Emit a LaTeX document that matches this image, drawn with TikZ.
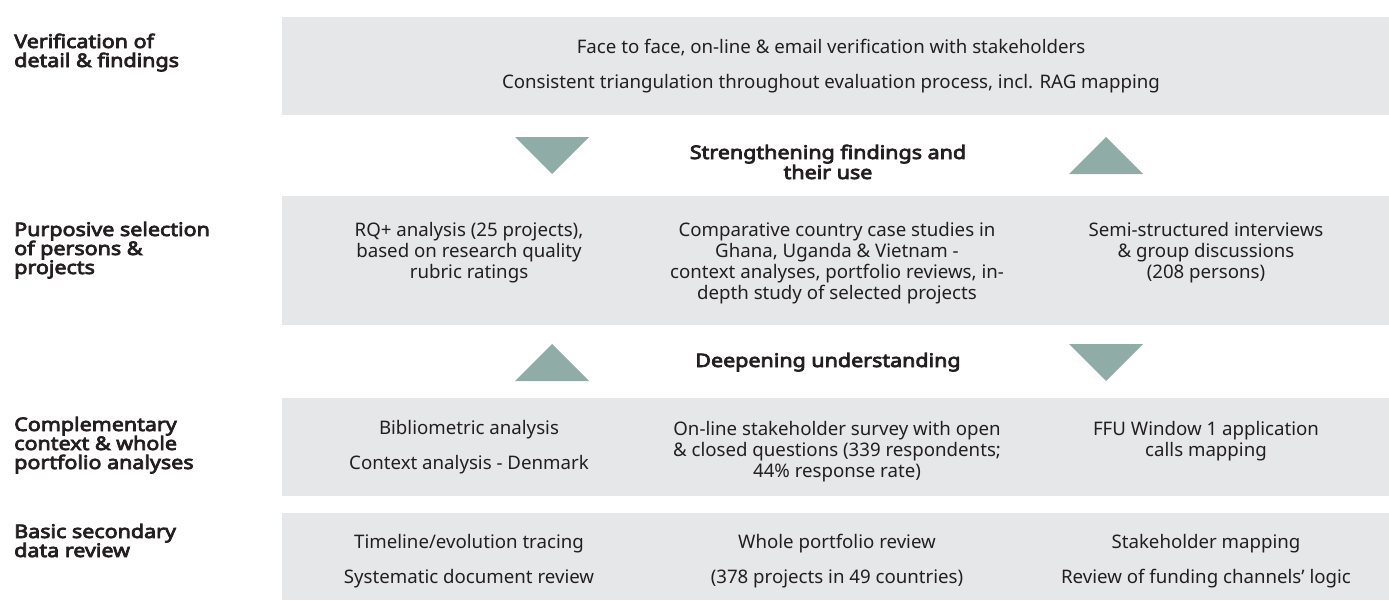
\documentclass[tikz,border=0pt]{standalone}
\usepackage{fontspec}
\setmainfont{Noto Sans}
\newfontfamily\labfont{Noto Sans}[FakeBold=4, FakeStretch=1.15]
\definecolor{panelgrey}{HTML}{E6E7E8}
\definecolor{trigreen}{HTML}{8FADA6}
\definecolor{ink}{HTML}{231F20}
\newcommand\stackC[2]{\vtop{\baselineskip=#1\lineskiplimit=-\maxdimen\lineskip=0pt\halign{\hfil##\hfil\cr#2\crcr}}}
\newcommand\stackL[2]{\vtop{\baselineskip=#1\lineskiplimit=-\maxdimen\lineskip=0pt\halign{##\hfil\cr#2\crcr}}}
\tikzset{
  panel/.style={fill=panelgrey},
  tri/.style={fill=trigreen},
  body/.style={inner sep=0pt, anchor=base, text=ink, font=\fontsize{14pt}{15.75pt}\selectfont},
  lab/.style={inner sep=0pt, anchor=base west, text=ink, font=\labfont\fontsize{14pt}{14.25pt}\selectfont},
  mid/.style={inner sep=0pt, anchor=base, text=ink, font=\labfont\fontsize{14pt}{15pt}\selectfont}
}
\begin{document}
\begin{tikzpicture}[x=0.75pt,y=-0.75pt]
\useasboundingbox (0,0) rectangle (1389,600);
% panels
\fill[panel] (282,17) rectangle (1389,115);
\fill[panel] (282,196) rectangle (1389,325);
\fill[panel] (282,398) rectangle (1389,496);
\fill[panel] (282,513) rectangle (1389,600);
% triangles
\fill[tri] (515,137) -- (589,137) -- (552,174) -- cycle;
\fill[tri] (1069,174) -- (1143,174) -- (1106,137) -- cycle;
\fill[tri] (515,381) -- (589,381) -- (552,344) -- cycle;
\fill[tri] (1069,344) -- (1143,344) -- (1106,381) -- cycle;
% row labels
\node[lab] (l1) at (14,48) {\stackL{14.25pt}{Verification of\cr detail \& findings}};
\node[lab] (l2) at (14,236) {\stackL{14.25pt}{Purposive selection\cr of persons \&\cr projects}};
\node[lab] (l3) at (14,431) {\stackL{14.25pt}{Complementary\cr context \& whole\cr portfolio analyses}};
\node[lab] (l4) at (14,538) {\stackL{14.25pt}{Basic secondary\cr data review}};
% row 1
\node[body] (v1) at (831,53) {Face to face, on-line \& email verification with stakeholders};
\node[body] (v2) at (831,88) {Consistent triangulation throughout evaluation process, incl. RAG mapping};
% middle labels
\node[mid] (m1) at (828,159) {\stackC{15pt}{Strengthening findings and\cr their use}};
\node[mid] (m2) at (828,367) {Deepening understanding};
% row 2
\node[body] (p1) at (469,236) {\stackC{15.75pt}{RQ+ analysis (25 projects),\cr based on research quality\cr rubric ratings}};
\node[body] (p2) at (837,236) {\stackC{15.75pt}{Comparative country case studies in\cr Ghana, Uganda \& Vietnam -\cr context analyses, portfolio reviews, in-\cr depth study of selected projects}};
\node[body] (p3) at (1206,236) {\stackC{15.75pt}{Semi-structured interviews\cr \& group discussions\cr (208 persons)}};
% row 3
\node[body] (c1) at (469,434) {Bibliometric analysis};
\node[body] (c1b) at (469,469) {Context analysis - Denmark};
\node[body] (c2) at (837,435) {\stackC{15.75pt}{On-line stakeholder survey with open\cr \& closed questions (339 respondents;\cr 44\% response rate)}};
\node[body] (c3) at (1206,435) {\stackC{15.75pt}{FFU Window 1 application\cr calls mapping}};
% row 4
\node[body] (b1) at (469,548) {Timeline/evolution tracing};
\node[body] (b1b) at (469,583) {Systematic document review};
\node[body] (b2) at (837,548) {Whole portfolio review};
\node[body] (b2b) at (837,583) {(378 projects in 49 countries)};
\node[body] (b3) at (1206,548) {Stakeholder mapping};
\node[body] (b3b) at (1206,583) {Review of funding channels’ logic};
\end{tikzpicture}
\end{document}
